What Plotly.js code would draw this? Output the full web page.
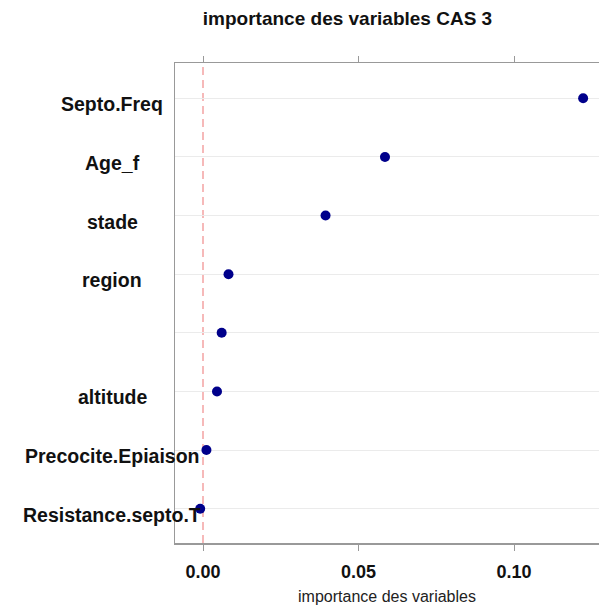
<!DOCTYPE html>
<html>
<head>
<meta charset="utf-8">
<script src="https://cdn.plot.ly/plotly-3.0.1.min.js"></script>
<style>html,body{margin:0;padding:0;background:#fff;}#chart{width:599px;height:605px;}</style>
</head>
<body>
<div id="chart"></div>
<script>
// Data, listed top to bottom as in the chart
const variables = ["Septo.Freq", "Age_f", "stade", "region", "", "altitude", "Precocite.Epiaison", "Resistance.septo.T"];
const importance = [0.1222, 0.0585, 0.0394, 0.0082, 0.0060, 0.0045, 0.0011, -0.0009];
const xTickValues = [0.00, 0.05, 0.10];
const xTickLabels = ["0.00", "0.05", "0.10"];

const W = 599, H = 605;
const M = {l: 175, r: 0, t: 63, b: 62};
const plotW = W - M.l - M.r;

const n = variables.length;
const yPos = variables.map((_, i) => n - 1 - i);

const trace = {
  type: 'scatter', mode: 'markers',
  x: importance, y: yPos,
  marker: {color: '#00008B', size: 10},
  hoverinfo: 'skip', showlegend: false
};

const labelCenterPx = 112;
const annotations = variables.map((v, i) => ({
  text: v, xref: 'paper', yref: 'y',
  x: (labelCenterPx - M.l) / plotW, y: yPos[i],
  xanchor: 'center', yanchor: 'middle', yshift: -6,
  showarrow: false,
  font: {family: 'Liberation Sans, Arial, sans-serif', size: 19.5, color: '#111', weight: 'bold'}
}));

const layout = {
  width: W, height: H,
  margin: M,
  paper_bgcolor: '#fff', plot_bgcolor: '#fff',
  title: {
    text: '<b>importance des variables CAS 3</b>',
    xref: 'container', x: 347.5 / W, xanchor: 'center',
    yref: 'container', y: 1 - 18 / H, yanchor: 'middle',
    font: {family: 'Liberation Sans, Arial, sans-serif', size: 19, color: '#111'}
  },
  xaxis: {
    range: [-0.009, 0.1273],
    tickvals: xTickValues, ticktext: xTickLabels,
    ticks: 'outside', ticklen: 6, tickwidth: 1, tickcolor: '#999',
    showline: true, linecolor: '#999', linewidth: 1.5, mirror: 'ticks',
    showgrid: false, zeroline: false,
    ticklabelstandoff: 6,
    tickfont: {family: 'Liberation Sans, Arial, sans-serif', size: 18, color: '#111', weight: 'bold'},
    title: {text: 'importance des variables', standoff: 10,
      font: {family: 'Liberation Sans, Arial, sans-serif', size: 16, color: '#222'}}
  },
  yaxis: {
    range: [-0.585, 7.602],
    tickvals: yPos, showticklabels: false, ticks: '',
    showgrid: true, gridcolor: '#ebebeb', gridwidth: 1,
    showline: true, linecolor: '#999', linewidth: 1.5,
    zeroline: false
  },
  shapes: [{
    type: 'line', xref: 'x', yref: 'paper',
    x0: 0, x1: 0, y0: 0, y1: 1,
    line: {color: '#f4a3a3', width: 1.5, dash: '8px,5px'},
    layer: 'below'
  }],
  annotations: annotations
};

Plotly.newPlot('chart', [trace], layout, {displayModeBar: false, staticPlot: true});
</script>
</body>
</html>
